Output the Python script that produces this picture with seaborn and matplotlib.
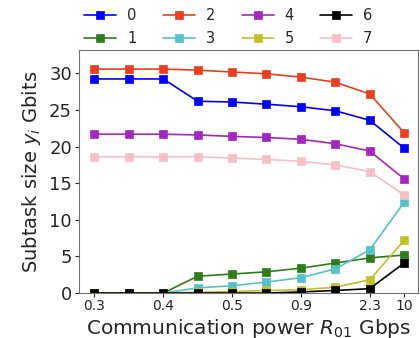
import numpy as np
import pandas as pd
import matplotlib
matplotlib.use('Agg')
import matplotlib.pyplot as plt
import seaborn as sns

# ── Data ──────────────────────────────────────────────────────
x_labels = ['0.3', '0.4', '0.5', '0.9', '2.3', '10']
x_label_pos = [0, 2, 4, 6, 8, 9]
positions = list(range(10))

y0 = [29.25, 29.25, 29.25, 26.2, 26.1, 25.8, 25.45, 24.9, 23.6, 19.8]
y1 = [0.0, 0.0, 0.0, 2.3, 2.6, 2.9, 3.4, 4.1, 4.8, 5.2]
y2 = [30.6, 30.6, 30.6, 30.45, 30.2, 29.95, 29.5, 28.8, 27.2, 21.9]
y3 = [0.0, 0.0, 0.0, 0.7, 1.0, 1.5, 2.1, 3.3, 5.9, 12.4]
y4 = [21.7, 21.7, 21.7, 21.6, 21.4, 21.25, 21.0, 20.4, 19.4, 15.6]
y5 = [0.0, 0.0, 0.0, 0.1, 0.2, 0.35, 0.45, 0.8, 1.8, 7.2]
y6 = [0.0, 0.0, 0.0, 0.0, 0.0, 0.0, 0.15, 0.35, 0.6, 4.1]
y7 = [18.6, 18.6, 18.6, 18.6, 18.45, 18.25, 18.0, 17.5, 16.6, 13.4]

series = [y0, y1, y2, y3, y4, y5, y6, y7]
names = ['0', '1', '2', '3', '4', '5', '6', '7']
colors = ['#0000ff', '#2e7d1a', '#ea3e1e', '#55c2c8',
          '#a426c0', '#c4c02a', '#000000', '#f5c0c8']

sns.set_style('ticks')
plt.rcParams['font.family'] = ['DejaVu Sans']

fig, ax = plt.subplots(figsize=(4.2, 3.38), dpi=100)
fig.subplots_adjust(left=0.188, right=0.995, top=0.852, bottom=0.133)

for name, vals, c in zip(names, series, colors):
    sns.lineplot(x=positions, y=vals, color=c, marker='s', markersize=6.2,
                 markeredgecolor=c, markeredgewidth=0.5, linewidth=1.2,
                 label=name, ax=ax)

ax.set_xticks(x_label_pos)
ax.set_xticklabels(x_labels)
ax.set_xlim(-0.45, 9.4)
ax.set_ylim(0, 33.2)
ax.set_yticks([0, 5, 10, 15, 20, 25, 30])
ax.tick_params(axis='y', labelsize=13, length=3, pad=2)
ax.tick_params(axis='x', labelsize=10, length=3, pad=1.5)
ax.set_xlabel(r'Communication power $R_{01}$ Gbps', fontsize=14.5, labelpad=3)
ax.set_ylabel(r'Subtask size $y_i$ Gbits', fontsize=14)
for s in ax.spines.values():
    s.set_visible(True)
    s.set_color('0.45')

ax.get_legend().remove()
handles, labels = ax.get_legend_handles_labels()
fig.legend(handles, labels, loc='upper left', bbox_to_anchor=(0.187, 0.993),
           ncol=4, frameon=False, fontsize=10.5, handlelength=2.2,
           columnspacing=1.8, handletextpad=0.75, borderaxespad=0,
           labelspacing=0.55)

plt.savefig('out.png', dpi=100)
plt.close()
